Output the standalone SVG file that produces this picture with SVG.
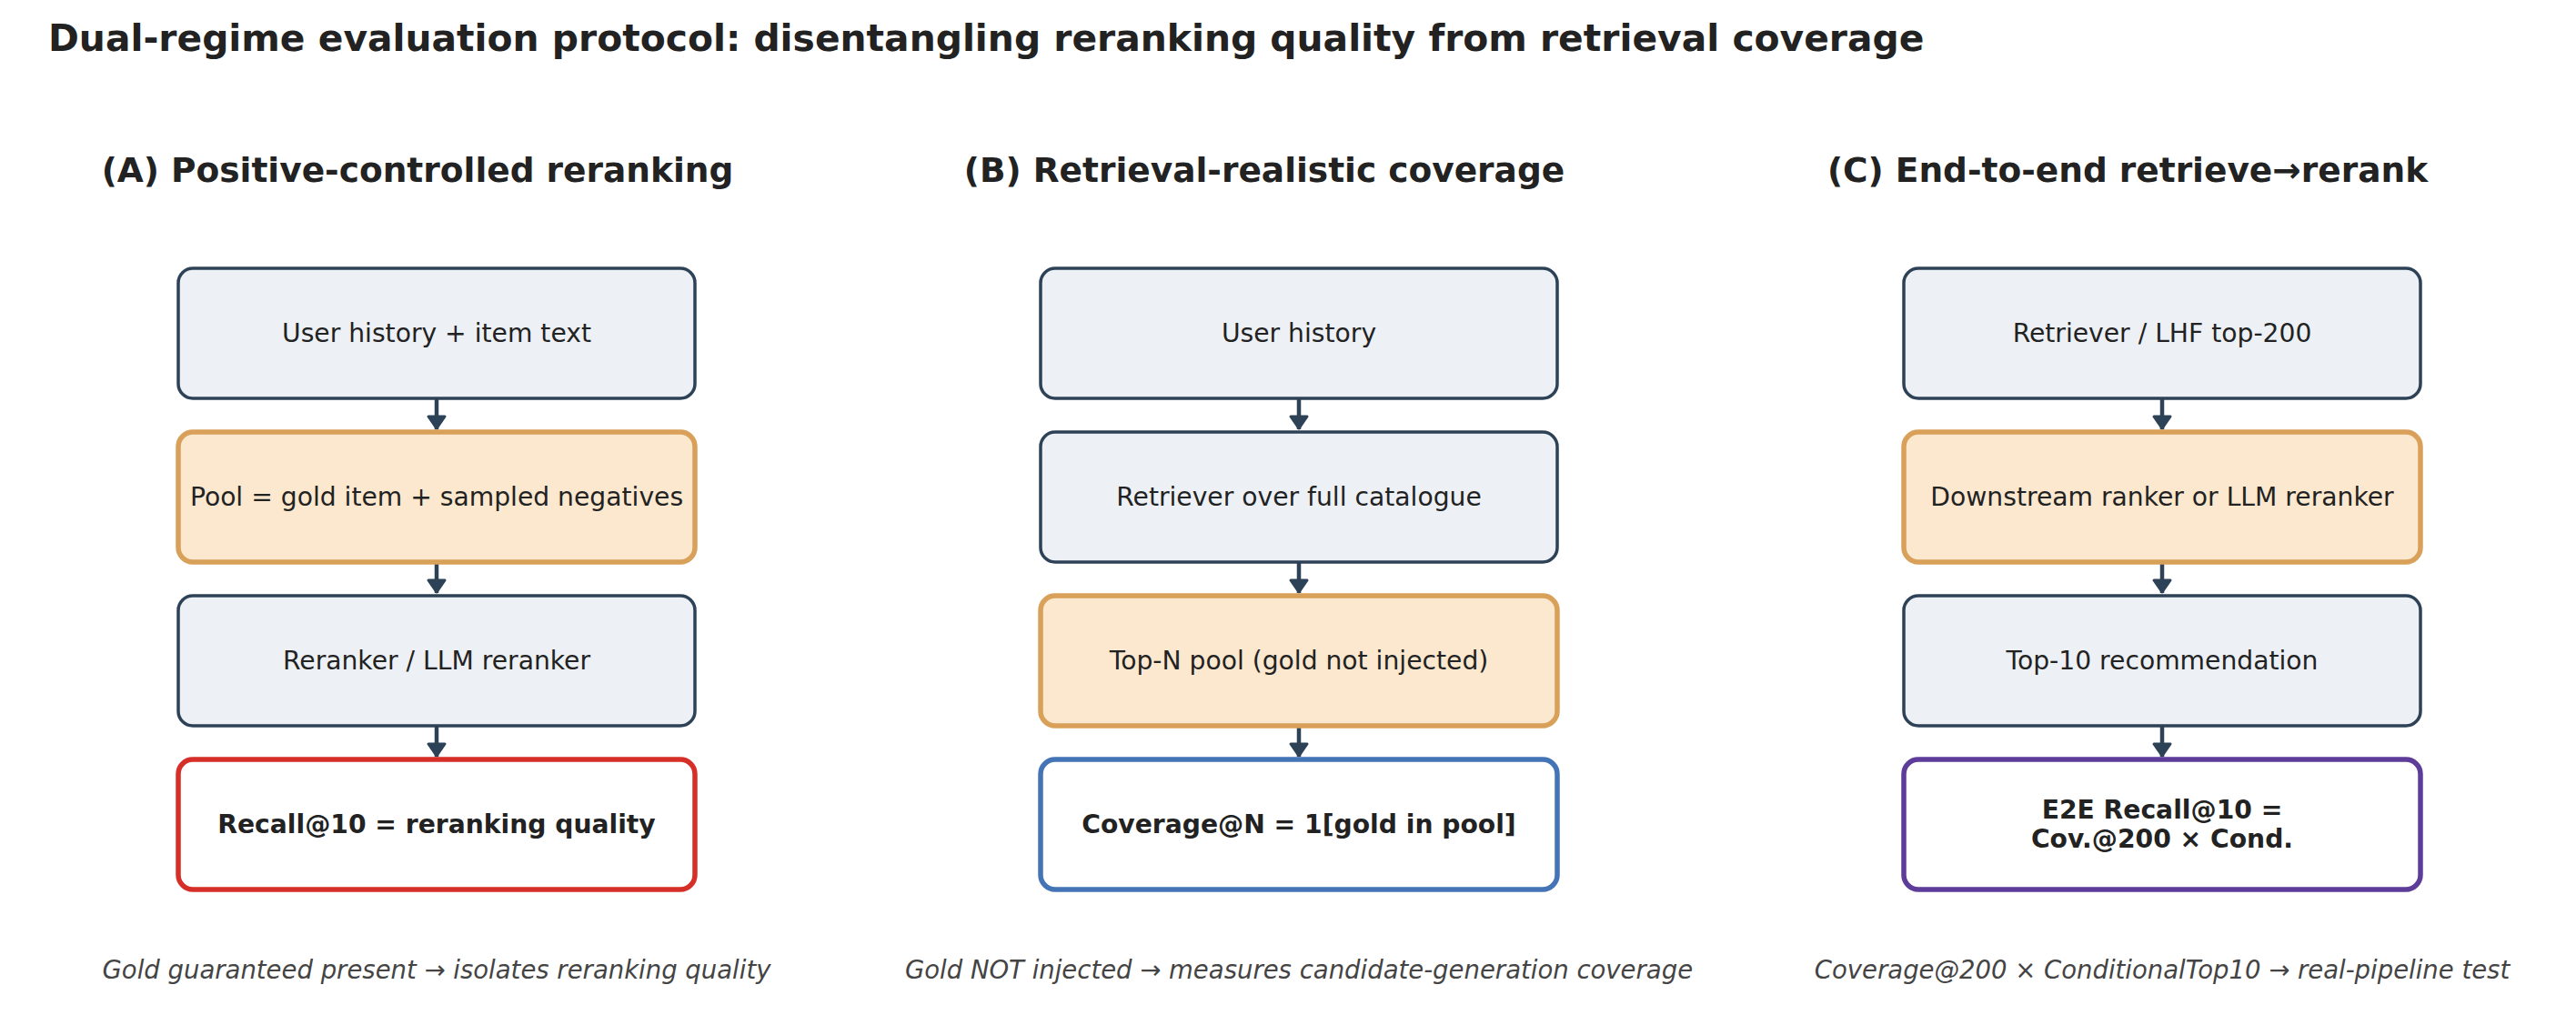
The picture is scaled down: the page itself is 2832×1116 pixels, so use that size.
<svg xmlns="http://www.w3.org/2000/svg" width="2832" height="1116" viewBox="0 0 2832 1116">
<defs>
<style>
.title{font-family:"DejaVu Sans",sans-serif;font-weight:bold;font-size:40.8px;fill:#222}
.ptitle{font-family:"DejaVu Sans",sans-serif;font-weight:bold;font-size:37.5px;fill:#222;text-anchor:middle}
.lbl{font-family:"DejaVu Sans",sans-serif;font-size:28.2px;fill:#222;text-anchor:middle;dominant-baseline:central}
.blbl{font-family:"DejaVu Sans",sans-serif;font-weight:bold;font-size:28.2px;fill:#222;text-anchor:middle;dominant-baseline:central}
.cap{font-family:"DejaVu Sans",sans-serif;font-style:italic;font-size:27.5px;fill:#444;text-anchor:middle;dominant-baseline:central}
.plain{fill:#edf1f6;stroke:#2e4257;stroke-width:3.5}
.pool{fill:#fbe8cf;stroke:#d9a05a;stroke-width:5.5}
.red{fill:#fff;stroke:#d62f27;stroke-width:5.5}
.blue{fill:#fff;stroke:#4474b6;stroke-width:5.5}
.purple{fill:#fff;stroke:#5e3c99;stroke-width:5.5}
.conn{stroke:#2e4257;stroke-width:4.5;fill:none;marker-end:url(#ah)}
</style>
<marker id="ah" viewBox="-3 -3 22 26" refX="14" refY="10" markerWidth="22" markerHeight="26" markerUnits="userSpaceOnUse" orient="auto" overflow="visible">
<path d="M0,1 L0,19 L13,10 z" fill="#2e4257" stroke="#2e4257" stroke-width="3" stroke-linejoin="round"/>
</marker>
</defs>
<rect width="2832" height="1116" fill="#fff"/>
<text class="title" x="53" y="56">Dual-regime evaluation protocol: disentangling reranking quality from retrieval coverage</text>
<text class="ptitle" x="459" y="200">(A) Positive-controlled reranking</text>
<text class="ptitle" x="1390" y="200">(B) Retrieval-realistic coverage</text>
<text class="ptitle" x="2339" y="200">(C) End-to-end retrieve→rerank</text>

<g id="connectors">
<line class="conn" x1="480" y1="438" x2="480" y2="472"/>
<line class="conn" x1="480" y1="618" x2="480" y2="652"/>
<line class="conn" x1="480" y1="798" x2="480" y2="832"/>
<line class="conn" x1="1428" y1="438" x2="1428" y2="472"/>
<line class="conn" x1="1428" y1="618" x2="1428" y2="652"/>
<line class="conn" x1="1428" y1="798" x2="1428" y2="832"/>
<line class="conn" x1="2377" y1="438" x2="2377" y2="472"/>
<line class="conn" x1="2377" y1="618" x2="2377" y2="652"/>
<line class="conn" x1="2377" y1="798" x2="2377" y2="832"/>
</g>

<g id="a1"><rect class="plain" x="196" y="295" width="568" height="143" rx="16"/><text class="lbl" x="480" y="366">User history + item text</text></g>
<g id="a2"><rect class="pool" x="196" y="475" width="568" height="143" rx="16"/><text class="lbl" x="480" y="546">Pool = gold item + sampled negatives</text></g>
<g id="a3"><rect class="plain" x="196" y="655" width="568" height="143" rx="16"/><text class="lbl" x="480" y="726">Reranker / LLM reranker</text></g>
<g id="a4"><rect class="red" x="196" y="835" width="568" height="143" rx="16"/><text class="blbl" x="480" y="906">Recall@10 = reranking quality</text></g>

<g id="b1"><rect class="plain" x="1144" y="295" width="568" height="143" rx="16"/><text class="lbl" x="1428" y="366">User history</text></g>
<g id="b2"><rect class="plain" x="1144" y="475" width="568" height="143" rx="16"/><text class="lbl" x="1428" y="546">Retriever over full catalogue</text></g>
<g id="b3"><rect class="pool" x="1144" y="655" width="568" height="143" rx="16"/><text class="lbl" x="1428" y="726">Top-N pool (gold not injected)</text></g>
<g id="b4"><rect class="blue" x="1144" y="835" width="568" height="143" rx="16"/><text class="blbl" x="1428" y="906">Coverage@N = 1[gold in pool]</text></g>

<g id="c1"><rect class="plain" x="2093" y="295" width="568" height="143" rx="16"/><text class="lbl" x="2377" y="366">Retriever / LHF top-200</text></g>
<g id="c2"><rect class="pool" x="2093" y="475" width="568" height="143" rx="16"/><text class="lbl" x="2377" y="546">Downstream ranker or LLM reranker</text></g>
<g id="c3"><rect class="plain" x="2093" y="655" width="568" height="143" rx="16"/><text class="lbl" x="2377" y="726">Top-10 recommendation</text></g>
<g id="c4"><rect class="purple" x="2093" y="835" width="568" height="143" rx="16"/><text class="blbl" x="2377" y="890">E2E Recall@10 =</text><text class="blbl" x="2377" y="922">Cov.@200 × Cond.</text></g>

<text class="cap" x="480" y="1066">Gold guaranteed present → isolates reranking quality</text>
<text class="cap" x="1428" y="1066">Gold NOT injected → measures candidate-generation coverage</text>
<text class="cap" x="2377" y="1066">Coverage@200 × ConditionalTop10 → real-pipeline test</text>
</svg>
